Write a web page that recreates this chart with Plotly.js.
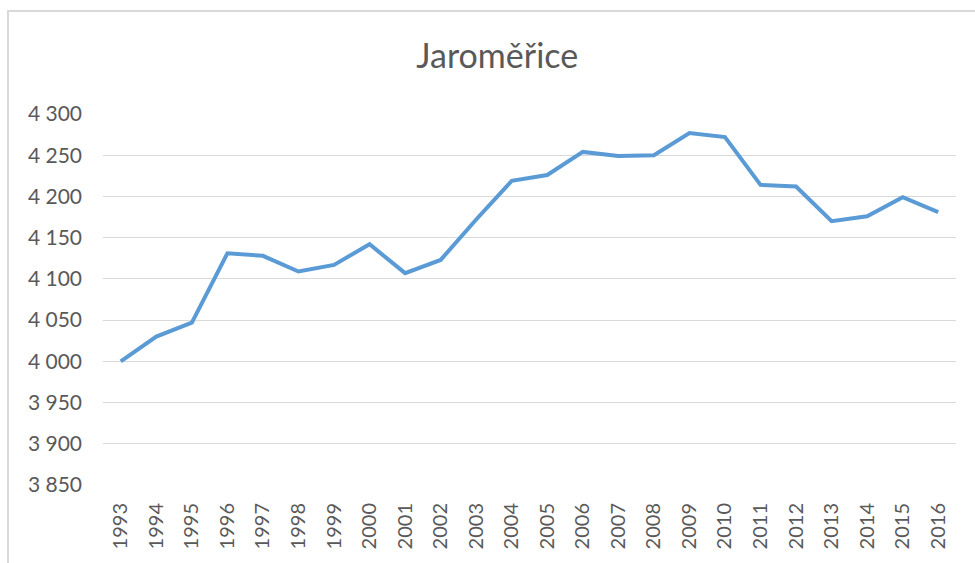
<!DOCTYPE html>
<html>
<head>
<meta charset="utf-8">
<script src="https://cdn.plot.ly/plotly-3.0.1.min.js"></script>
<style>
  html, body { margin: 0; padding: 0; background: #fff; }
  #wrap { position: relative; width: 975px; height: 563px; overflow: hidden; }
  #chart { width: 975px; height: 563px; }
  #frame { position: absolute; left: 7px; top: 10px; width: 980px; height: 570px;
           border: 2px solid #d9d9d9; box-sizing: border-box; pointer-events: none; }
</style>
</head>
<body>
<div id="wrap">
  <div id="chart"></div>
  <div id="frame"></div>
</div>
<script>
const chartTitle = "Jaroměřice";
const years = ["1993","1994","1995","1996","1997","1998","1999","2000","2001","2002","2003","2004",
               "2005","2006","2007","2008","2009","2010","2011","2012","2013","2014","2015","2016"];
const population = [4000, 4030, 4047, 4131, 4128, 4109, 4117, 4142, 4107, 4123, 4172, 4219,
                    4226, 4254, 4249, 4250, 4277, 4272, 4214, 4212, 4170, 4176, 4199, 4181];
const yTicks = [3850, 3900, 3950, 4000, 4050, 4100, 4150, 4200, 4250, 4300];

const fontFam = "Lato, 'Open Sans', sans-serif";
const textCol = "#595959";

Plotly.newPlot("chart", [{
  type: "scatter",
  mode: "lines",
  x: years,
  y: population,
  line: { color: "#5B9BD5", width: 4, shape: "linear" },
  hoverinfo: "x+y"
}], {
  width: 975,
  height: 563,
  margin: { l: 103, r: 19, t: 114, b: 78, pad: 0 },
  paper_bgcolor: "#ffffff",
  plot_bgcolor: "#ffffff",
  separators: ", ",
  showlegend: false,
  title: {
    text: chartTitle,
    x: 0.51, xanchor: "center",
    y: 0.9, yanchor: "middle",
    font: { family: fontFam, size: 34, color: textCol }
  },
  xaxis: {
    type: "category",
    tickangle: -90,
    showgrid: false,
    showline: false,
    zeroline: false,
    ticks: "",
    ticklabelstandoff: 13,
    tickfont: { family: fontFam, size: 20, color: textCol },
    range: [-0.5, years.length - 0.5],
    fixedrange: true
  },
  yaxis: {
    range: [3850, 4300],
    tickvals: yTicks,
    tickformat: ",d",
    showgrid: true,
    gridcolor: "#d9d9d9",
    gridwidth: 1,
    zeroline: false,
    showline: false,
    ticks: "",
    ticklabelstandoff: 20,
    tickfont: { family: fontFam, size: 21, color: textCol },
    fixedrange: true
  }
}, { displayModeBar: false, staticPlot: true });
</script>
</body>
</html>
